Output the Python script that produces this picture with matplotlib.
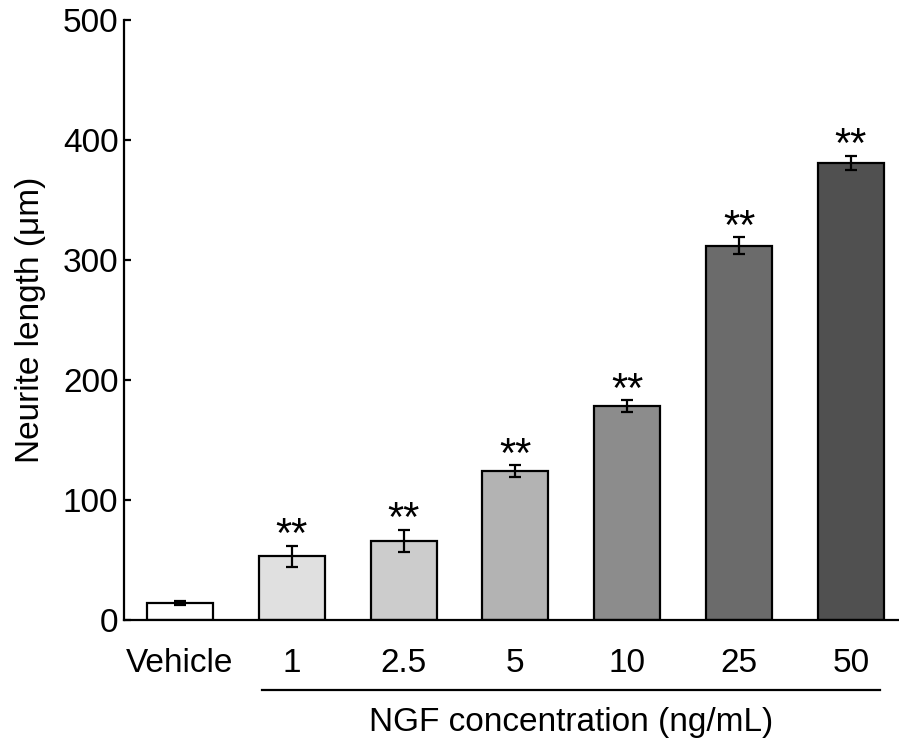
import matplotlib
matplotlib.use("Agg")
import matplotlib.pyplot as plt
from matplotlib.transforms import blended_transform_factory

categories = ["Vehicle", "1", "2.5", "5", "10", "25", "50"]
values = [14, 53, 66, 124, 178, 312, 381]
errors = [1.5, 9, 9, 5, 5, 7, 6]
colors = ["#ffffff", "#e0e0e0", "#cccccc", "#b3b3b3", "#8c8c8c", "#6b6b6b", "#505050"]
sig = ["", "**", "**", "**", "**", "**", "**"]

plt.rcParams['font.family'] = ['Liberation Sans', 'DejaVu Sans']

fig = plt.figure(figsize=(8.99, 7.45), dpi=100)
ax = fig.add_axes([124/899, 125/745, 775/899, 600/745])

x = list(range(len(categories)))
ax.bar(x, values, width=0.59, color=colors, edgecolor='black', linewidth=1.6, zorder=2)
ax.errorbar(x, values, yerr=errors, fmt='none', ecolor='black', elinewidth=1.6,
            capsize=4, capthick=1.6, zorder=3)
for xi, v, e, s in zip(x, values, errors, sig):
    if s:
        ax.annotate(s, (xi, v + e), xytext=(0, -1), textcoords='offset points',
                    ha='center', va='baseline', fontsize=30)

ax.set_xlim(-0.5, 6.43)
ax.set_ylim(0, 500)
ax.set_yticks([0, 100, 200, 300, 400, 500])
ax.set_xticks(x)
ax.set_xticklabels(categories)
ax.tick_params(axis='y', direction='in', length=5, width=1.6, labelsize=24, pad=4)
ax.tick_params(axis='x', length=0, labelsize=24, pad=20)
for sp in ['top', 'right']:
    ax.spines[sp].set_visible(False)
for sp in ['left', 'bottom']:
    ax.spines[sp].set_linewidth(1.6)

ax.set_ylabel("Neurite length (μm)", fontsize=24, labelpad=12)

tr = blended_transform_factory(ax.transData, fig.transFigure)
ax.plot([0.73, 6.26], [55/745, 55/745], color='black', linewidth=1.6, transform=tr, clip_on=False)
ax.text(3.5, 23/745, "NGF concentration (ng/mL)", transform=tr, ha='center', va='center', fontsize=24)

fig.savefig("out.png", dpi=100)
